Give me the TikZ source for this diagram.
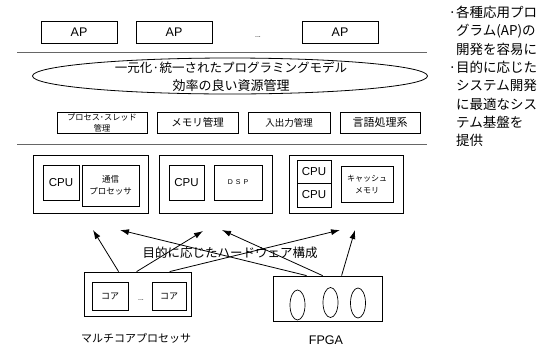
\documentclass[tikz,border=0pt]{standalone}
\usepackage{fontspec}
\setmainfont{Liberation Sans}
\newfontfamily\jp{Noto Sans CJK JP}
\usetikzlibrary{shapes.geometric,arrows.meta}
\tikzset{
  box/.style={draw, line width=0.8pt, inner sep=0pt, align=center},
  fs/.style={font=\fontsize{#1}{#1}\selectfont},
  jfs/.style={font=\jp\fontsize{#1}{#1}\selectfont},
  sep/.style={draw=black!60, line width=1pt},
  arr/.style={line width=0.8pt, -{Latex[length=9pt,width=6pt]}},
  cell/.style={draw, line width=0.7pt, minimum width=15pt, minimum height=30pt, shape=ellipse, inner sep=0pt}
}
\begin{document}
\begin{tikzpicture}[x=1pt,y=-1pt]
\useasboundingbox (0,0) rectangle (551,349);

% application layer
\node[box, fs=12.5, minimum width=76pt, minimum height=22pt] (ap1) at (79,32) {AP};
\node[box, fs=12.5, minimum width=76pt, minimum height=22pt] (ap2) at (174,32) {AP};
\node[fs=7] (apdots) at (258,37) {...};
\node[box, fs=12.5, minimum width=76pt, minimum height=22pt] (ap3) at (340,32) {AP};

\draw[sep] (17,52) -- (427,52);

% unified programming model
\node[draw, line width=0.8pt, shape=ellipse, minimum width=395pt, minimum height=36pt, inner sep=0pt] (model) at (230,76) {};
\node[jfs=12.5] (model1) at (231,68) {一元化·統一されたプログラミングモデル};
\node[jfs=13] (model2) at (231,86) {効率の良い資源管理};

% system services
\node[box, minimum width=90pt, minimum height=21pt] (svc1) at (102,122.5)
  {\jp\fontsize{8.2}{9}\selectfont プロセス･スレッド\\[-1pt]\jp\fontsize{8.2}{9}\selectfont 管理};
\node[box, jfs=10.5, minimum width=81pt, minimum height=21pt] (svc2) at (197.5,122.5) {メモリ管理};
\node[box, jfs=9.5, minimum width=82pt, minimum height=21pt] (svc3) at (289,122.5) {入出力管理};
\node[box, jfs=11, minimum width=80pt, minimum height=21pt] (svc4) at (380,122.5) {言語処理系};

\draw[sep] (17,144) -- (427,144);

% hardware configurations
\node[box, minimum width=115pt, minimum height=58pt] (hw1) at (90.5,184) {};
\node[box, fs=11.5, minimum width=36pt, minimum height=35pt] (cpu1) at (61,182.5) {CPU};
\node[box, minimum width=57pt, minimum height=41pt] (comm) at (110.5,185.5)
  {\jp\fontsize{8.5}{11}\selectfont 通信\\\jp\fontsize{8.5}{11}\selectfont プロセッサ};

\node[box, minimum width=113pt, minimum height=58pt] (hw2) at (215.5,184) {};
\node[box, fs=11.5, minimum width=35pt, minimum height=35pt] (cpu2) at (186.5,182.5) {CPU};
\node[box, fs=7, minimum width=48pt, minimum height=35pt] (dsp) at (238,182.5) {D\hspace{3pt}S\hspace{3pt}P};

\node[box, minimum width=114pt, minimum height=58pt] (hw3) at (346,184) {};
\node[box, fs=11.5, minimum width=34pt, minimum height=23pt] (cpu3) at (314,171.5) {CPU};
\node[box, fs=11.5, minimum width=34pt, minimum height=24pt] (cpu4) at (314,195) {CPU};
\node[box, minimum width=52pt, minimum height=36pt] (cache) at (367,184)
  {\jp\fontsize{8}{11}\selectfont キャッシュ\\\jp\fontsize{8}{11}\selectfont メモリ};

% multicore processor
\node[box, minimum width=107pt, minimum height=44pt] (mc) at (137.5,294) {};
\node[box, jfs=9, minimum width=36pt, minimum height=28pt] (core1) at (110,296) {コア};
\node[fs=7] (coredots) at (141,300) {...};
\node[box, jfs=9, minimum width=34pt, minimum height=28pt] (core2) at (169,296) {コア};
\node[jfs=11] (mclabel) at (136,338) {マルチコアプロセッサ};

% FPGA
\node[box, minimum width=109pt, minimum height=45pt] (fpga) at (327.5,298.5) {};
\node[cell] (lut1) at (297.5,305) {};
\node[cell] (lut2) at (330.5,302.5) {};
\node[cell] (lut3) at (358,303) {};
\node[fs=12.5] (fpgalabel) at (326,340) {FPGA};

% arrows towards the configurations
\coordinate (t1) at (93,230);
\coordinate (t2) at (203,231);
\coordinate (t3) at (340,230);
\coordinate (t4) at (120,230);
\coordinate (t5) at (222,230);
\coordinate (t6) at (355,230);
\draw[arr] ([xshift=35pt]mc.north west) -- (t1);
\draw[arr] ([xshift=53pt]mc.north west) -- (t2);
\draw[arr] ([xshift=86pt]mc.north west) -- (t3);
\draw[arr] ([xshift=34pt]fpga.north west) -- (t4);
\draw[arr] ([xshift=50pt]fpga.north west) -- (t5);
\draw[arr] ([xshift=69pt]fpga.north west) -- (t6);
\node[jfs=12.5] (hwlabel) at (230,253) {目的に応じたハードウェア構成};

% notes
\node[anchor=north west, align=left, font=\jp\fontsize{13.5}{18.3}\selectfont, inner sep=0pt] (notes) at (456,6)
  {\llap{·}各種応用プロ\\グラム(AP)の\\開発を容易に\\\llap{·}目的に応じた\\システム開発\\に最適なシス\\テム基盤を\\提供};
\end{tikzpicture}
\end{document}
